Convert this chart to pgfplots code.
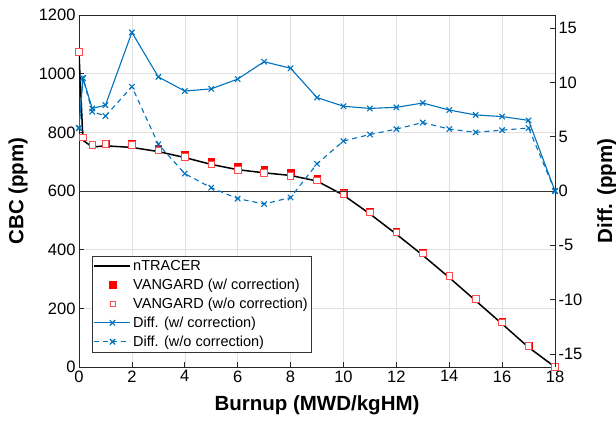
\documentclass[border=0pt]{standalone}
\usepackage{fontspec}
\setmainfont{Liberation Sans}
\usepackage{pgfplots}
\usepackage{pgfplotstable}
\pgfplotsset{compat=1.18}
\definecolor{mblue}{rgb}{0,0.447,0.741}
\definecolor{openred}{rgb}{1,0.3,0.3}

% burnup, nTRACER CBC, VANGARD CBC (w/, w/o correction), Diff (w/, w/o)
\pgfplotstableread{
bu    ntr     vw      vwo     dw     dwo
0     1069    1075    1075    5.8    5.8
0.15  773     783.4   783.4   10.4   10.4
0.5   750     757.6   757.3   7.6    7.3
1     754     761.9   760.9   7.9    6.9
2     748.5   763.1   758.1   14.6   9.6
3     734.5   745.0   738.8   10.5   4.3
4     714     723.2   715.6   9.2    1.6
5     690.7   700.1   691.0   9.4    0.3
6     672.7   683.0   672.0   10.3   -0.7
7     662     673.9   660.8   11.9   -1.2
8     653     664.3   652.4   11.3   -0.6
9     634     642.6   636.5   8.6    2.5
10    586     593.8   590.6   7.8    4.6
11    522     529.6   527.2   7.6    5.2
12    453     460.7   458.7   7.7    5.7
13    381     389.1   387.3   8.1    6.3
14    305     312.5   310.7   7.45   5.7
15    226     233.0   231.4   7.0    5.4
16    147     153.9   152.6   6.85   5.6
17    67      73.5    72.8    6.5    5.8
18    0       0       0       0      0
}\cbc

\pgfplotsset{
  common/.style={
    scale only axis, width=476bp, height=352bp,
    xmin=0, xmax=18,
    axis line style={black!85, line width=0.6bp},
    tick style={black!85, line width=0.6bp},
    major tick length=5bp,
    tick label style={font=\fontsize{16.5bp}{18bp}\selectfont},
    /pgf/number format/assume math mode=true,
    /pgf/number format/1000 sep={},
    label style={font=\fontsize{20.5bp}{22bp}\selectfont\bfseries},
  },
}

\begin{document}
\begin{tikzpicture}
\useasboundingbox (-79bp,-56bp) rectangle (537bp,367bp);
\begin{axis}[common,
  ymin=0, ymax=1200,
  xtick={0,2,...,18}, ytick={0,200,...,1200},
  ytick pos=left, xtick pos=bottom,
  grid=major, grid style={black!12, line width=0.5bp},
  xlabel={Burnup (MWD/kgHM)},
  ylabel={CBC (ppm)},
  xlabel style={at={(axis description cs:0.5,-0.108)}, anchor=center},
  ylabel style={at={(axis description cs:-0.128,0.5)}, anchor=center},
]
\addplot[black, line width=1.5bp] table[x=bu, y=ntr] {\cbc};
\addplot[only marks, mark=square*, mark size=3.3bp, draw=red, fill=red] table[x=bu, y=vw] {\cbc};
\addplot[only marks, mark=square*, mark size=3.3bp, draw=openred, fill=white, line width=0.8bp] table[x=bu, y=vwo] {\cbc};
\end{axis}
\begin{axis}[common,
  ymin=-16.2, ymax=16.2,
  axis y line*=right, axis x line=none,
  ytick={-15,-10,...,15},
  ylabel={Diff. (ppm)},
  ylabel style={at={(axis description cs:1.109,0.5)}, anchor=center},
  legend image code/.code={\draw[mark repeat=2, mark phase=2, #1] plot coordinates {(0bp,0bp) (18bp,0bp) (36bp,0bp)};},
  legend cell align=left,
  legend style={at={(axis description cs:0.0273,0.0426)}, anchor=south west,
    font=\fontsize{14.5bp}{16bp}\selectfont, draw=black!80, line width=0.5bp,
    inner xsep=1.5bp, inner ysep=2bp, row sep=3bp},
]
\addplot[black!80, line width=0.7bp, forget plot] coordinates {(0,0) (18,0)};
\addlegendimage{black, line width=1.5bp}
\addlegendentry{nTRACER}
\addlegendimage{only marks, mark=square*, mark size=3.3bp, draw=red, fill=red}
\addlegendentry{VANGARD (w/ correction)}
\addlegendimage{only marks, mark=square*, mark size=2.5bp, draw=openred, fill=white, line width=0.6bp}
\addlegendentry{VANGARD (w/o correction)}
\addplot[mblue, line width=1.1bp, mark=x, mark size=3.8bp, mark options={line width=1.1bp, solid}] table[x=bu, y=dw] {\cbc};
\addlegendentry{Diff. (w/ correction)}
\addplot[mblue, line width=1.1bp, dashed, dash pattern=on 5bp off 4bp, mark=x, mark size=3.8bp, mark options={line width=1.1bp, solid}] table[x=bu, y=dwo] {\cbc};
\addlegendentry{Diff. (w/o correction)}
\end{axis}
\end{tikzpicture}
\end{document}
